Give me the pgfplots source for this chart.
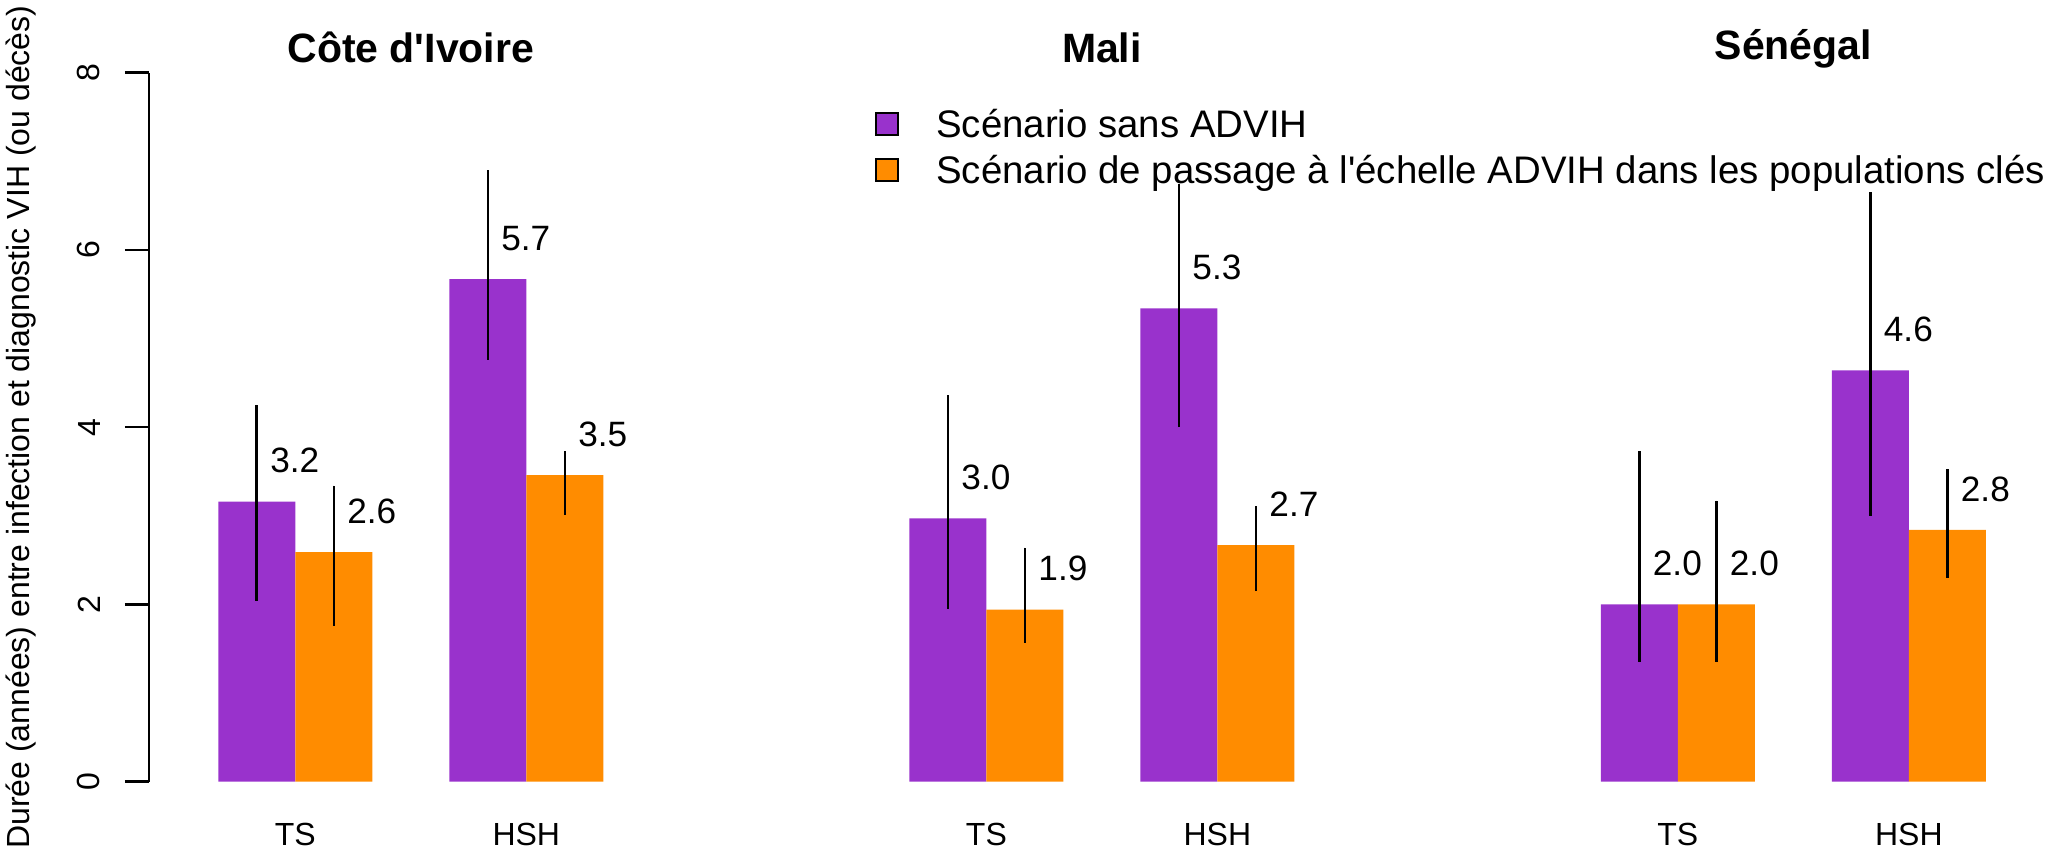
\documentclass[border=0pt]{standalone}
\usepackage{fontspec}
\setmainfont{Liberation Sans}
\usepackage{pgfplots}
\usepackage{pgfplotstable}
\pgfplotsset{compat=1.18}
\definecolor{purp}{RGB}{153,50,204}
\definecolor{orng}{RGB}{255,140,0}

\pgfplotstableread{
x y ep em lab
1.5 3.16 1.09 1.12 3.2
4.5 5.67 1.23 0.91 5.7
10.475 2.97 1.39 1.02 3.0
13.475 5.34 1.40 1.34 5.3
19.455 2.00 1.73 0.65 2.0
22.455 4.64 2.01 1.64 4.6
}\purpdata

\pgfplotstableread{
x y ep em lab
2.5 2.59 0.75 0.83 2.6
5.5 3.46 0.27 0.45 3.5
11.475 1.94 0.70 0.37 1.9
14.475 2.67 0.44 0.52 2.7
20.455 2.00 1.17 0.65 2.0
23.455 2.84 0.69 0.54 2.8
}\orngdata

\pgfplotsset{mybar/.style={ybar, bar width=1, bar shift=0pt, draw=none, forget plot,
  nodes near coords={\pgfplotspointmeta}, point meta=explicit symbolic,
  every node near coord/.append style={font=\fontsize{8.8}{10}\selectfont, anchor=south, inner sep=0pt, xshift=9.5pt, yshift=6.9pt, text=black},
  error bars/y dir=both, error bars/y explicit, error bars/error mark=none,
  error bars/error bar style={line width=0.65pt, black}}}

\begin{document}
\begin{tikzpicture}
\begin{axis}[
  x=19.25pt, y=22.156pt,
  xmin=0.1, xmax=24.866, ymin=0, ymax=8,
  clip=false,
  axis y line=left, axis x line=bottom,
  x axis line style={draw=none},
  y axis line style={-, line width=0.65pt},
  ytick={0,2,4,6,8},
  ytick style={line width=0.65pt, black},
  tick align=outside, major tick length=6pt,
  xtick={2,5,10.975,13.975,19.955,22.955},
  xticklabels={TS,HSH,TS,HSH,TS,HSH},
  xtick style={draw=none},
  tick label style={font=\fontsize{8}{9.6}\selectfont},
  yticklabel style={xshift=-6pt, rotate=90, anchor=south, inner sep=0pt},
  xticklabel style={anchor=base, inner sep=0pt, yshift=-10pt},
  /pgf/number format/assume math mode=true,
  ylabel={Durée (années) entre infection et diagnostic VIH (ou décès)},
  ylabel style={at={(axis cs:-1.458,4)}, anchor=base, rotate=0, font=\fontsize{8}{9.6}\selectfont},
  legend style={at={(axis cs:9.529,7.588)}, anchor=north west, draw=none, fill=none,
    inner sep=0pt, outer sep=0pt, row sep=2.3pt,
    font=\fontsize{9.6}{11.5}\selectfont,
    nodes={inner sep=0pt, text height=7.2pt, text depth=2pt},
    /tikz/every odd column/.style={column sep=9.25pt},
    cells={anchor=base west}},
]
\addplot[mybar, fill=purp] table[x=x, y=y, y error plus=ep, y error minus=em, meta=lab] {\purpdata};
\addplot[mybar, fill=orng] table[x=x, y=y, y error plus=ep, y error minus=em, meta=lab] {\orngdata};

\addlegendimage{legend image code/.code={\draw[fill=purp, draw=black, line width=0.55pt] (0pt,0.75pt) rectangle (5.5pt,6.25pt);}}
\addlegendentry{Scénario sans ADVIH}
\addlegendimage{legend image code/.code={\draw[fill=orng, draw=black, line width=0.55pt] (0pt,0.75pt) rectangle (5.5pt,6.25pt);}}
\addlegendentry{Scénario de passage à l\textquotesingle échelle ADVIH dans les populations clés}

\node[font=\bfseries\fontsize{10.25}{12}\selectfont, anchor=base] at (axis cs:3.5,8.11) {Côte d\textquotesingle Ivoire};
\node[font=\bfseries\fontsize{10.25}{12}\selectfont, anchor=base] at (axis cs:12.475,8.11) {Mali};
\node[font=\bfseries\fontsize{10.25}{12}\selectfont, anchor=base] at (axis cs:21.455,8.145) {Sénégal};

\coordinate (bl) at (axis cs:-1.835,-0.782);
\coordinate (tr) at (axis cs:24.866,8.820);
\end{axis}
\pgfresetboundingbox
\path (bl) rectangle (tr);
\end{tikzpicture}
\end{document}
